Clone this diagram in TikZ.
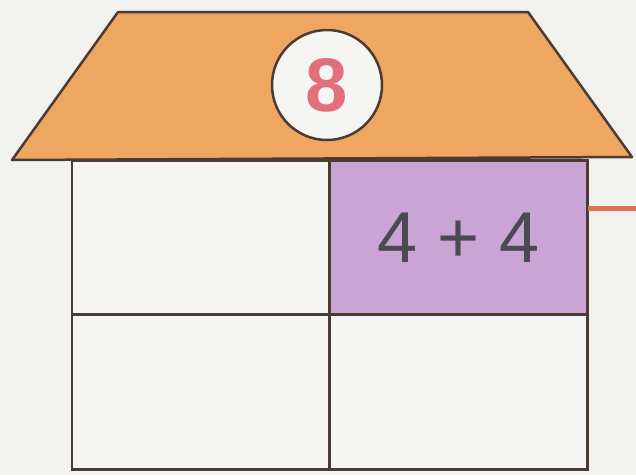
\documentclass[tikz,border=0pt]{standalone}
\usepackage{fontspec}
\setmainfont{Liberation Sans}
\usepackage{tikz}
\usetikzlibrary{positioning}
\definecolor{bgpaper}{HTML}{F1F1EE}
\definecolor{roofor}{HTML}{EFA660}
\definecolor{edgebr}{HTML}{4A3C34}
\definecolor{cellpur}{HTML}{C9A4D4}
\definecolor{cellwh}{HTML}{F5F5F4}
\definecolor{digpink}{HTML}{E2707C}
\definecolor{txtgray}{HTML}{4B4A52}
\definecolor{linkred}{HTML}{E2704E}
\tikzset{
  cell/.style={draw=edgebr,line width=2.5pt,fill=cellwh,minimum width=258pt,minimum height=155pt,inner sep=0pt,outer sep=0pt},
  roof/.style={draw=edgebr,line width=2.5pt,fill=roofor,line join=round},
  badge/.style={circle,draw=edgebr,line width=2.5pt,fill=cellwh,minimum size=110pt,inner sep=0pt,font=\fontsize{76}{76}\selectfont\bfseries,text=digpink},
  sum/.style={font=\fontsize{72}{72}\selectfont,text=txtgray},
  link/.style={draw=linkred,line width=5pt},
}
\begin{document}
\begin{tikzpicture}[x=1pt,y=-1pt]
\fill[bgpaper] (0,0) rectangle (636,475);
\useasboundingbox (0,0) rectangle (636,475);
% roof with the total
\draw[roof] (118,12) -- (528,12) -- (632,157) -- (12,160) -- cycle;
\node[badge] (total) at (327,85) {8};
% the four rooms
\node[cell] (r11) at (201,238) {};
\node[cell,fill=cellpur] (r12) at (458.5,238) {};
\node[cell] (r21) at (201,392) {};
\node[cell] (r22) at (458.5,392) {};
\node[sum] (split) at (r12) {4 + 4};
% link off to the right
\coordinate (away) at (636,208);
\draw[link] (r12.east |- away) -- (away);
\end{tikzpicture}
\end{document}
